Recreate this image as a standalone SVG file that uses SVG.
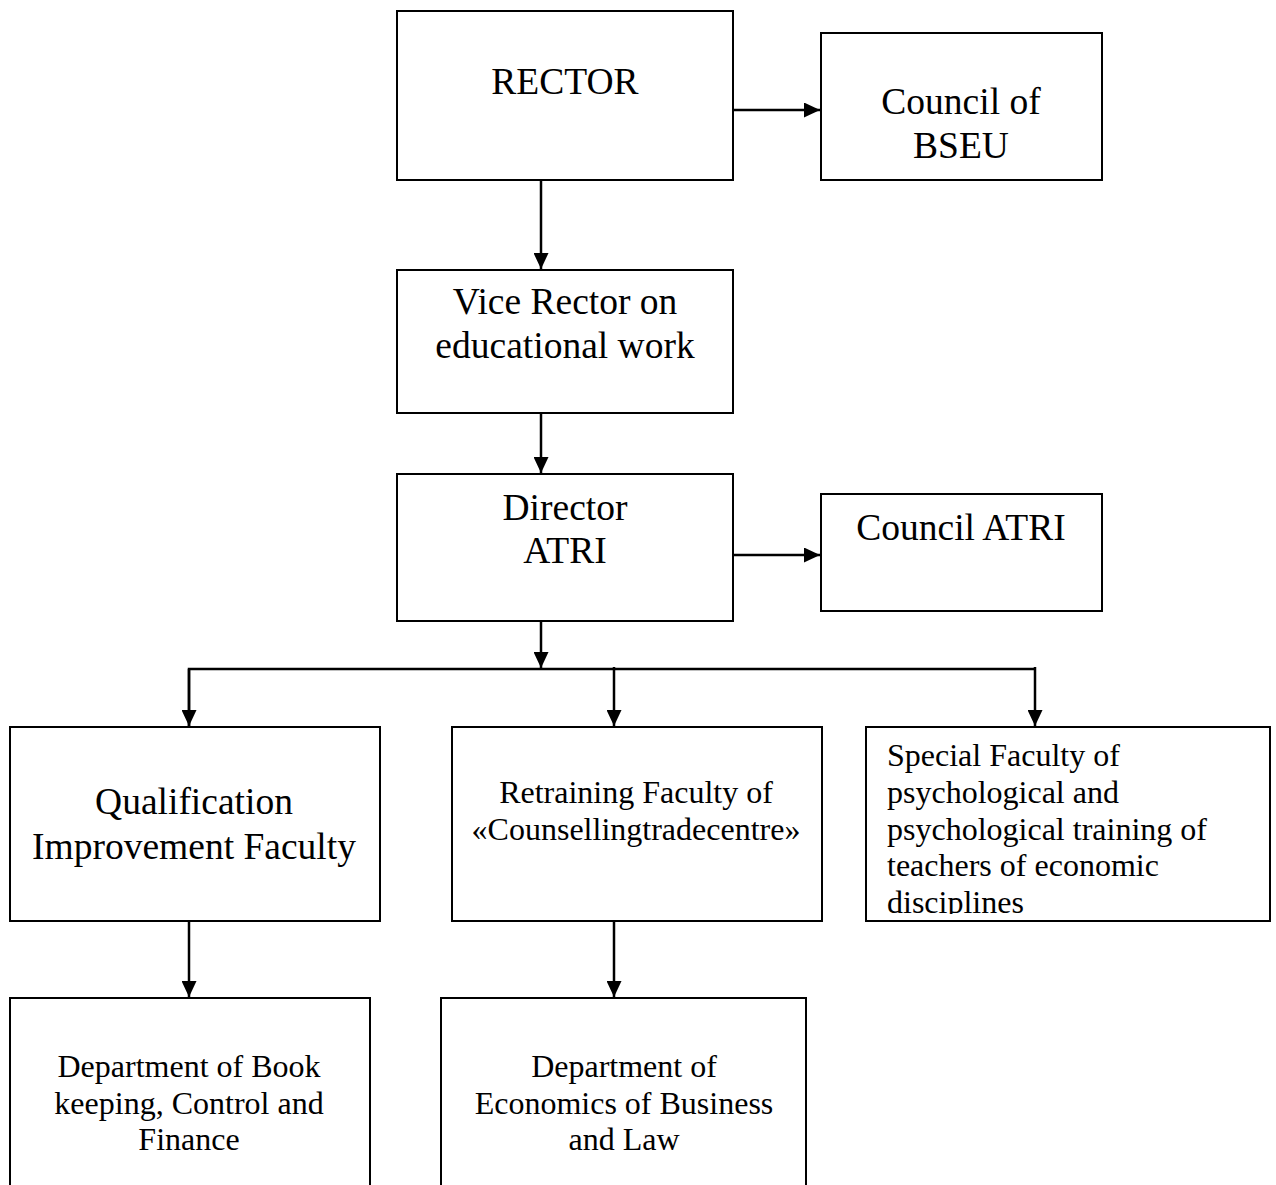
<svg xmlns="http://www.w3.org/2000/svg" width="1276" height="1185" viewBox="0 0 1276 1185">
<style>
.box{fill:#fff;stroke:#000;stroke-width:2}
.t{font-family:"Liberation Serif","Times New Roman",serif;fill:#000}
.c{text-anchor:middle}
.l{font-size:37.5px}
.m{font-size:32px}
.s{font-size:32px}
.con{stroke:#000;stroke-width:2.5;fill:none}
</style>
<defs>
<marker id="ahb" viewBox="0 0 16 15" refX="16" refY="7.5" markerWidth="16" markerHeight="15" markerUnits="userSpaceOnUse" orient="auto">
<path d="M0,0 L16,7.5 L0,15 z" fill="#000"/>
</marker>
<clipPath id="clipSpecial"><rect x="866" y="727" width="404" height="187"/></clipPath>
</defs>
<rect width="1276" height="1185" fill="#fff"/>
<g id="connectors">
<line class="con" x1="733" y1="110" x2="820" y2="110" marker-end="url(#ahb)"/>
<line class="con" x1="541" y1="180" x2="541" y2="269" marker-end="url(#ahb)"/>
<line class="con" x1="541" y1="413" x2="541" y2="473" marker-end="url(#ahb)"/>
<line class="con" x1="733" y1="555" x2="820" y2="555" marker-end="url(#ahb)"/>
<line class="con" x1="541" y1="621" x2="541" y2="668" marker-end="url(#ahb)"/>
<polyline class="con" points="189,726 189,669 1035,669"/>
<line class="con" x1="189" y1="669" x2="189" y2="726" marker-end="url(#ahb)"/>
<line class="con" x1="614" y1="667" x2="614" y2="726" marker-end="url(#ahb)"/>
<line class="con" x1="1035" y1="667" x2="1035" y2="726" marker-end="url(#ahb)"/>
<line class="con" x1="189" y1="921" x2="189" y2="997" marker-end="url(#ahb)"/>
<line class="con" x1="614" y1="921" x2="614" y2="997" marker-end="url(#ahb)"/>
</g>
<g id="rector">
<rect class="box" x="397" y="11" width="336" height="169"/>
<text class="t c l" x="565" y="94">RECTOR</text>
</g>
<g id="council-bseu">
<rect class="box" x="821" y="33" width="281" height="147"/>
<text class="t c l" x="961" y="114">Council of</text>
<text class="t c l" x="961" y="158">BSEU</text>
</g>
<g id="vice-rector">
<rect class="box" x="397" y="270" width="336" height="143"/>
<text class="t c l" x="565" y="314">Vice Rector on</text>
<text class="t c l" x="565" y="358">educational work</text>
</g>
<g id="director">
<rect class="box" x="397" y="474" width="336" height="147"/>
<text class="t c l" x="565" y="520">Director</text>
<text class="t c l" x="565" y="563">ATRI</text>
</g>
<g id="council-atri">
<rect class="box" x="821" y="494" width="281" height="117"/>
<text class="t c l" x="961" y="540">Council ATRI</text>
</g>
<g id="qualification">
<rect class="box" x="10" y="727" width="370" height="194"/>
<text class="t c l" x="194" y="814">Qualification</text>
<text class="t c l" x="194" y="859">Improvement Faculty</text>
</g>
<g id="retraining">
<rect class="box" x="452" y="727" width="370" height="194"/>
<text class="t c m" x="636" y="803">Retraining Faculty of</text>
<text class="t c m" x="636" y="840">«Counsellingtradecentre»</text>
</g>
<g id="special">
<rect class="box" x="866" y="727" width="404" height="194"/>
<g clip-path="url(#clipSpecial)">
<text class="t s" x="887" y="766">Special Faculty of</text>
<text class="t s" x="887" y="803">psychological and</text>
<text class="t s" x="887" y="840">psychological training of</text>
<text class="t s" x="887" y="876">teachers of economic</text>
<text class="t s" x="887" y="913">disciplines</text>
</g>
</g>
<g id="dept-book">
<rect class="box" x="10" y="998" width="360" height="200"/>
<text class="t c m" x="189" y="1077">Department of Book</text>
<text class="t c m" x="189" y="1114">keeping, Control and</text>
<text class="t c m" x="189" y="1150">Finance</text>
</g>
<g id="dept-econ">
<rect class="box" x="441" y="998" width="365" height="200"/>
<text class="t c m" x="624" y="1077">Department of</text>
<text class="t c m" x="624" y="1114">Economics of Business</text>
<text class="t c m" x="624" y="1150">and Law</text>
</g>
</svg>
